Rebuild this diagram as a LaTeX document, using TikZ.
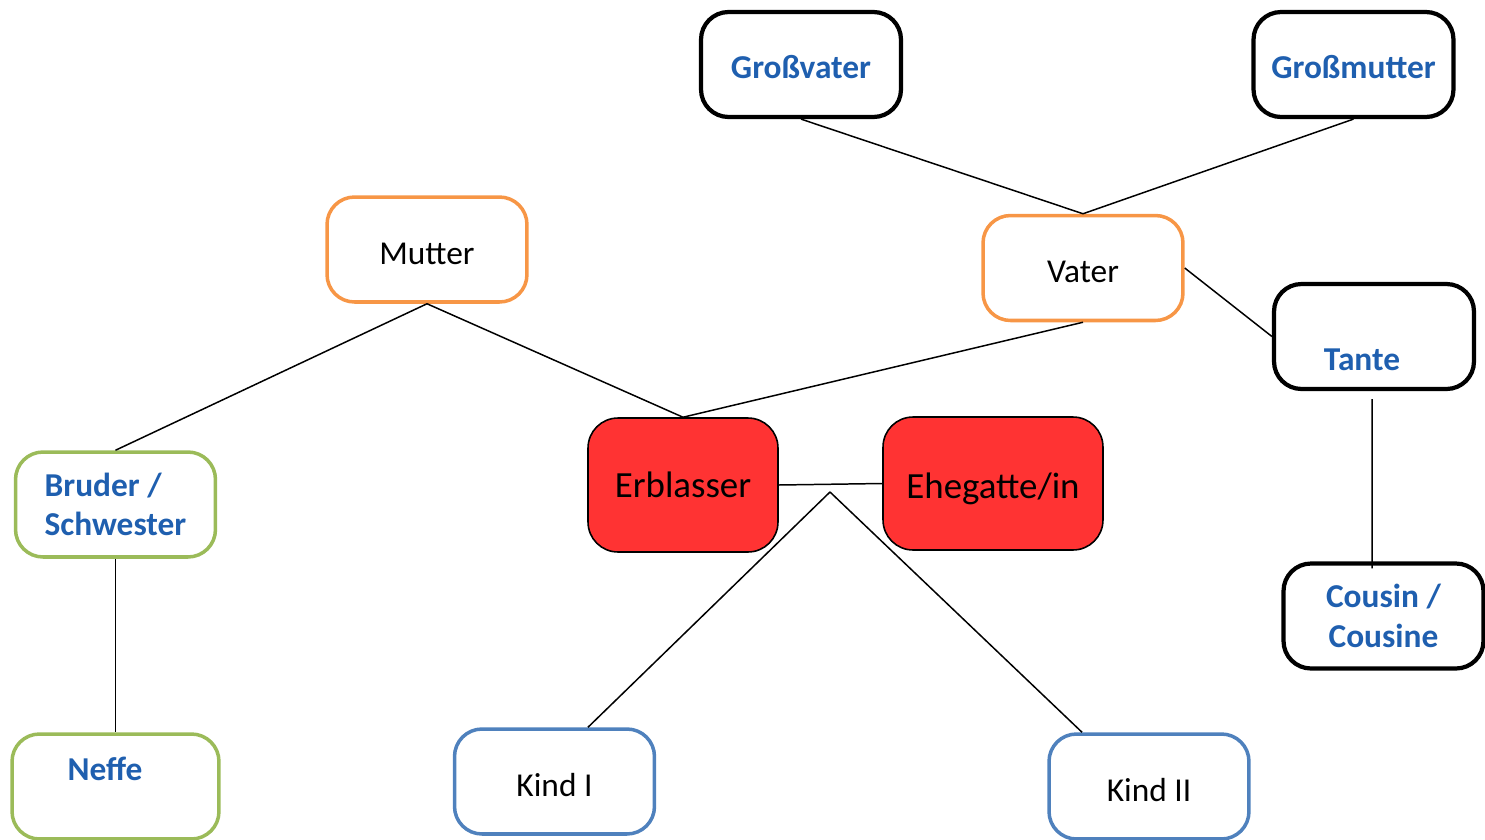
\documentclass[tikz,border=0pt]{standalone}
\usepackage{fontspec}
\setmainfont{Carlito}
\usepackage{xcolor}
\definecolor{family-orange}{HTML}{F79646}
\definecolor{family-green}{HTML}{9BBB59}
\definecolor{family-blue}{HTML}{4F81BD}
\definecolor{family-red}{HTML}{FF3333}
\definecolor{family-text}{HTML}{1F5FAF}
\usepackage{tikz}

\tikzset{
  person/.style={draw, rounded corners=0.55cm, minimum width=4cm, minimum height=2.1cm, line width=2pt, align=center, inner sep=0pt, font=\fontsize{19}{22.5}\selectfont},
  relative/.style={person, draw=black, line width=2.4pt},
  heir/.style={person, fill=family-red, line width=0.9pt, rounded corners=0.6cm, font=\fontsize{21}{25}\selectfont},
  bluetext/.style={font=\fontsize{19}{22.5}\selectfont\bfseries, text=family-text},
  single/.style={text height=16.5pt, text depth=0pt},
  link/.style={line width=0.85pt}
}

\begin{document}
\begin{tikzpicture}[x=0.02cm, y=-0.02cm]

    % Background
    \useasboundingbox (0, 0) rectangle (1485, 839);

    % Grandparents
    \node[relative, bluetext, single] (grossvater) at (801, 64.5) {Großvater};
    \node[relative, bluetext, single] (grossmutter) at (1353.5, 64.5) {Großmutter};

    % Parents
    \node[person, single, draw=family-orange] (mutter) at (427, 249.5) {Mutter};
    \node[person, single, draw=family-orange] (vater) at (1083, 268) {Vater};

    % Aunt and cousin
    \node[relative] (tante) at (1374, 336.5) {};
    \node[bluetext] (tantename) at (1362, 360) {Tante};
    \node[relative, bluetext] (cousin) at (1383.5, 616) {Cousin /\\Cousine};

    % Testator and spouse
    \node[heir, minimum width=3.8cm, minimum height=2.68cm] (erblasser) at (683, 485) {Erblasser};
    \node[heir, single, minimum width=4.4cm, minimum height=2.66cm] (ehegatte) at (993, 483.5) {Ehegatte/in};

    % Siblings
    \node[person, draw=family-green, bluetext, align=left] (geschwister) at (115.5, 504.5) {Bruder /\\Schwester};
    \node[person, draw=family-green, minimum width=4.14cm] (neffe) at (115.5, 786.5) {};
    \node[bluetext] (neffename) at (105, 769) {Neffe};

    % Children
    \node[person, single, draw=family-blue] (kind1) at (554.5, 781.5) {Kind I};
    \node[person, single, draw=family-blue] (kind2) at (1149, 786.5) {Kind II};
    \coordinate (kinder) at (830, 492);

    % Lines
    \draw[link] (grossvater.south) -- (vater.north);
    \draw[link] (grossmutter.south) -- (vater.north);
    \draw[link] (vater.east) -- (tante.west);
    \draw[link] ([xshift=-0.04cm, yshift=-0.16cm]tante.south) -- ([xshift=-0.23cm, yshift=-0.14cm]cousin.north);
    \draw[link] (vater.south) -- (erblasser.north);
    \draw[link] (mutter.south) -- (erblasser.north);
    \draw[link] (mutter.south) -- (geschwister.north);
    \draw[link] (geschwister.south) -- (neffe.north);
    \draw[link] (erblasser.east) -- (ehegatte.west);
    \draw[link] (kinder) -- ([xshift=0.67cm]kind1.north);
    \draw[link] (kinder) -- ([xshift=-1.34cm]kind2.north);

\end{tikzpicture}
\end{document}
